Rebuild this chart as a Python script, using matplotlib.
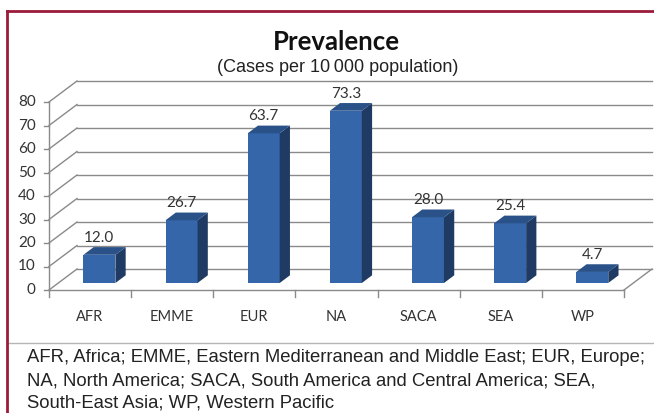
import matplotlib
matplotlib.use("Agg")
import matplotlib.pyplot as plt
from matplotlib.patches import Polygon
from matplotlib.lines import Line2D

# Data
regions = ["AFR", "EMME", "EUR", "NA", "SACA", "SEA", "WP"]
prevalence = [12.0, 26.7, 63.7, 73.3, 28.0, 25.4, 4.7]
y_ticks = [0, 10, 20, 30, 40, 50, 60, 70, 80]
title = "Prevalence"
subtitle = "(Cases per 10\u2009000 population)"
footnote = ["AFR, Africa; EMME, Eastern Mediterranean and Middle East; EUR, Europe;",
            "NA, North America; SACA, South America and Central America; SEA,",
            "South-East Asia; WP, Western Pacific"]

W, H, DPI = 654, 413, 100
fig = plt.figure(figsize=(W / DPI, H / DPI), dpi=DPI)
fig.patch.set_facecolor("white")

# Chart axes spanning the figure; category/value units
ax = fig.add_axes([0, 0, 1, 1])
ax.set_axis_off()
px_per_cat = 575 / 7.0
px_per_val = 2.35
x0_px, y0_px = 49, 290
ax.set_xlim(-0.5 - x0_px / px_per_cat, -0.5 + (W - x0_px) / px_per_cat)
ax.set_ylim((y0_px - H) / px_per_val, y0_px / px_per_val)

# 3-D depth of the floor (back wall offset)
DX = 28 / px_per_cat
DY = 21 / px_per_val
grid_c = "#8a8a8a"
txt_c = "#333333"
xl, xr = -0.5, len(regions) - 0.5
x_end = xr + DX

for v in y_ticks:
    ax.add_line(Line2D([xl, xl + DX], [v, v + DY], color=grid_c, lw=1, zorder=1))
    ax.add_line(Line2D([xl + DX, x_end], [v + DY, v + DY], color=grid_c, lw=1, zorder=1))
    ax.add_line(Line2D([xl - 0.06, xl], [v, v], color=grid_c, lw=1, zorder=1))
    ax.text(xl - 0.16, v, str(v), ha="right", va="center", fontsize=11,
            color=txt_c, family="Lato")
ax.add_line(Line2D([xl, xl], [0, y_ticks[-1]], color=grid_c, lw=1, zorder=1))
ax.add_line(Line2D([xl, xr], [0, 0], color=grid_c, lw=1, zorder=1))
ax.add_line(Line2D([xr, xr + DX], [0, DY], color=grid_c, lw=1, zorder=1))
for i in range(len(regions) + 1):
    ax.add_line(Line2D([xl + i, xl + i], [0, -3], color=grid_c, lw=1, zorder=1))

# Bars
bw = 32 / px_per_cat
f0, f1 = 1 / 3.0, 0.70
front_c, side_c, top_c = "#3566a9", "#1f3b63", "#2a5288"
for i, (name, val) in enumerate(zip(regions, prevalence)):
    ox, oy = DX * f0, DY * f0
    dx, dy = DX * (f1 - f0), DY * (f1 - f0)
    L = i - bw / 2 + ox
    R = i + bw / 2 + ox
    b = oy
    t = oy + val
    ax.bar(i + ox, val, width=bw, bottom=b, color=front_c, edgecolor="none", zorder=3)
    ax.add_patch(Polygon([(R, b), (R + dx, b + dy), (R + dx, t + dy), (R, t)],
                         closed=True, facecolor=side_c, edgecolor="none", zorder=3))
    ax.add_patch(Polygon([(L, t), (R, t), (R + dx, t + dy), (L + dx, t + dy)],
                         closed=True, facecolor=top_c, edgecolor="none", zorder=3))
    ax.text(i + ox, t + dy + 1.0, f"{val:.1f}", ha="center", va="bottom",
            fontsize=11, color=txt_c, family="Lato", zorder=4)
    ax.text(i, -11.5, name, ha="center", va="center", fontsize=10.5,
            color=txt_c, family="Lato")

# Titles
fig.text(336 / W, 1 - 42 / H, title, ha="center", va="center", fontsize=18.5,
         fontweight="bold", family="Lato", color="#111111")
fig.text(338 / W, 1 - 67 / H, subtitle, ha="center", va="center", fontsize=13,
         family="Liberation Sans", color="#222222")

# Frame and separator
fig.add_artist(Line2D([7 / W, 1], [1 - 343 / H] * 2, color="#b5b5b5", lw=1))
fig.add_artist(Line2D([7 / W, 7 / W], [0, 1 - 11 / H], color="#9b1b3a", lw=2))
fig.add_artist(Line2D([7 / W, 1], [1 - 11 / H] * 2, color="#9b1b3a", lw=2))

# Footnote
for k, line in enumerate(footnote):
    fig.text(27 / W, 1 - (358 + 22.5 * k) / H, line, ha="left", va="center",
             fontsize=13.3, family="Liberation Sans", color="#222222")

fig.savefig("out.png", dpi=DPI)
